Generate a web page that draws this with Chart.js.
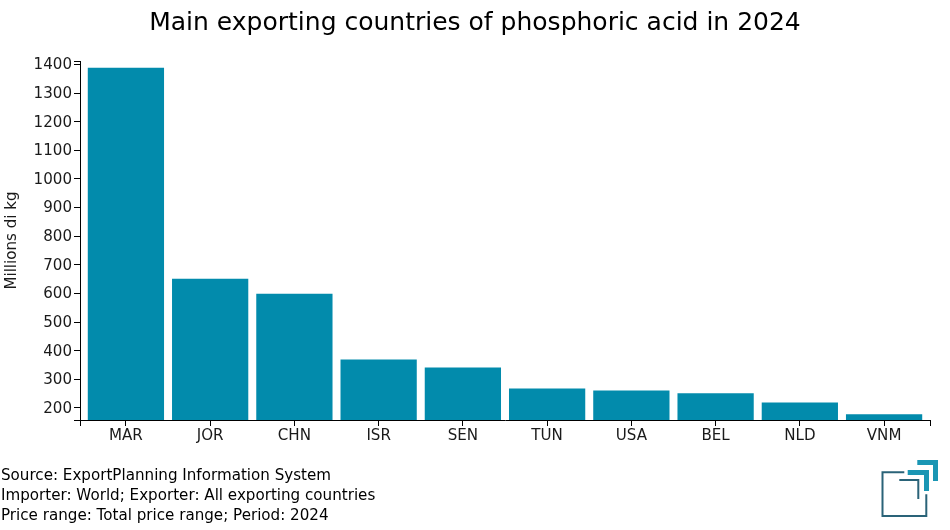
<!DOCTYPE html>
<html>
<head>
<meta charset="utf-8">
<title>Main exporting countries of phosphoric acid in 2024</title>
<script src="https://cdn.jsdelivr.net/npm/chart.js@4"></script>
<style>
body{margin:0;background:#fff;font-family:"DejaVu Sans",sans-serif;color:#000;}
#wrap{position:relative;width:950px;height:530px;overflow:hidden;}
#chart{position:absolute;left:0;top:0;}
#title{position:absolute;left:0;width:950px;top:7px;text-align:center;font-size:25px;line-height:30px;}
#foot{position:absolute;left:1px;top:465px;font-size:15.13px;line-height:20px;white-space:nowrap;}
#logo{position:absolute;left:0;top:0;}
</style>
</head>
<body>
<div id="wrap">
  <canvas id="chart" width="950" height="530"></canvas>
  <div id="title">Main exporting countries of phosphoric acid in 2024</div>
  <div id="foot">Source: ExportPlanning Information System<br>Importer: World; Exporter: All exporting countries<br>Price range: Total price range; Period: 2024</div>
  <svg id="logo" width="950" height="530" fill="none">
    <path d="M904.3 472.3H882.5V516H926.3V494.3" stroke="#2a6378" stroke-width="2"/>
    <path d="M899.3 480H918.3V499" stroke="#2a6378" stroke-width="2"/>
    <path d="M907.7 472.5H926.5V491" stroke="#1a96b4" stroke-width="5"/>
    <path d="M917.3 462.5H935.5V481" stroke="#1a96b4" stroke-width="5"/>
  </svg>
</div>
<script>
var categories = ['MAR','JOR','CHN','ISR','SEN','TUN','USA','BEL','NLD','VNM'];
var exportValues = [1387,650,598,368,340,267,260,250,218,177];
var yTicks = [200,300,400,500,600,700,800,900,1000,1100,1200,1300,1400];
var yMin = 158, yMax = 1412;
var xMin = -0.545, xMax = 9.545;

var points = exportValues.map(function(v,i){ return {x:i,y:v}; });

function endTicks(scale, list){
    scale.ticks = [scale.min].concat(list,[scale.max]).map(function(v){ return {value:v}; });
}

new Chart(document.getElementById('chart'), {
    type:'bar',
    data:{
        datasets:[{
            data:points,
            backgroundColor:'#028bac',
            barThickness:75.6
        }]
    },
    options:{
        responsive:false,
        animation:false,
        devicePixelRatio:1,
        layout:{padding:{left:0,right:20,top:61,bottom:80}},
        plugins:{legend:{display:false},title:{display:false},tooltip:{enabled:false}},
        scales:{
            x:{
                type:'linear',
                min:xMin,
                max:xMax,
                offset:false,
                afterBuildTicks:function(s){ endTicks(s, categories.map(function(c,i){ return i; })); },
                afterFit:function(s){ s.height = 30; },
                grid:{offset:false,drawOnChartArea:false,drawTicks:true,tickLength:6,color:'#000',tickColor:'#000'},
                border:{color:'#000',width:1},
                ticks:{
                    autoSkip:false,
                    maxRotation:0,
                    color:'#1a1a1a',
                    font:{family:'DejaVu Sans',size:15.1},
                    padding:1,
                    callback:function(v){ return categories[v] !== undefined ? categories[v] : ''; }
                }
            },
            y:{
                min:yMin,
                max:yMax,
                afterBuildTicks:function(s){ endTicks(s, yTicks); },
                afterFit:function(s){ s.width = 80; },
                grid:{drawOnChartArea:false,drawTicks:true,tickLength:6,color:'#000',tickColor:'#000'},
                border:{color:'#000',width:1},
                title:{display:true,text:'Millions di kg',color:'#1a1a1a',font:{family:'DejaVu Sans',size:15.1},padding:{top:3,bottom:0}},
                ticks:{
                    autoSkip:false,
                    color:'#1a1a1a',
                    font:{family:'DejaVu Sans',size:15.1},
                    padding:2,
                    labelOffset:1,
                    callback:function(v){ return yTicks.indexOf(v) >= 0 ? String(v) : ''; }
                }
            }
        }
    }
});
</script>
</body>
</html>
